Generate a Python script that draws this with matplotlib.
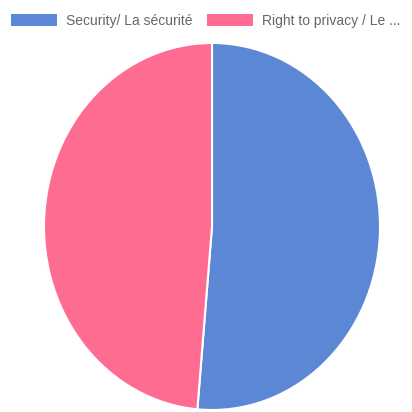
import matplotlib
matplotlib.use("Agg")
import matplotlib.pyplot as plt
from matplotlib.patches import Patch

labels = ["Security/ La sécurité", "Right to privacy / Le ..."]
values = [37, 35]
colors = ["#5b87d5", "#ff6c92"]

W = H = 412
fig = plt.figure(figsize=(W / 100, H / 100), dpi=100)
plt.rcParams["font.family"] = ["Liberation Sans", "DejaVu Sans"]

# pie is stretched vertically in the reference
ax = fig.add_axes([44 / W, 1 - 410 / H, 336 / W, 367 / H])
ax.pie(values, colors=colors, startangle=90, counterclock=False,
       wedgeprops=dict(edgecolor="white", linewidth=1.5))
ax.set_aspect("auto")
ax.set_xlim(-1, 1)
ax.set_ylim(-1, 1)
ax.axis("off")

handles = [Patch(facecolor=c, edgecolor="none") for c in colors]
fig.legend(handles, labels, loc="upper left", bbox_to_anchor=(1 / W, 1 - 4 / H),
           ncol=2, frameon=False, fontsize=10.0, labelcolor="#666666",
           handlelength=3.3, handleheight=0.9, handletextpad=0.65,
           columnspacing=1.05, borderaxespad=0.3)

fig.savefig("out.png", dpi=100)
